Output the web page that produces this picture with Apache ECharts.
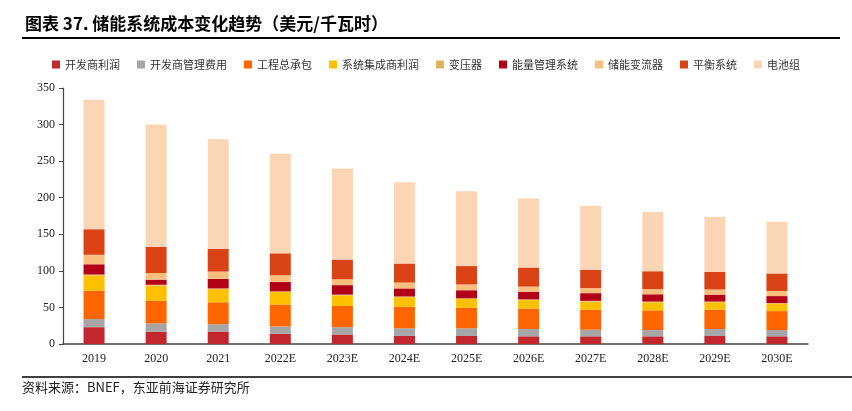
<!DOCTYPE html>
<html>
<head>
<meta charset="utf-8">
<script src="https://cdn.jsdelivr.net/npm/echarts@6/dist/echarts.min.js"></script>
<style>
html,body{margin:0;padding:0;background:#fff;}
#c{width:852px;height:411px;}
</style>
</head>
<body>
<div id="c"></div>
<script>
const categories = ['2019','2020','2021','2022E','2023E','2024E','2025E','2026E','2027E','2028E','2029E','2030E'];
const devProfit    = [23, 17, 17, 14, 13, 11, 11, 10.5, 10.5, 10.5, 11, 10.5];
const devMgmt      = [11, 11, 10, 10, 10, 10.5, 10.5, 10, 9, 8.5, 9.5, 8.5];
const epc          = [39, 31, 30, 30, 29, 29.5, 28, 28, 27.5, 27, 26.5, 26];
const siProfit     = [21, 21, 18, 17, 14.5, 13, 12, 11.5, 11, 11, 10, 10];
const transformer  = [1, 1, 1, 1, 1, 1, 1, 1, 1, 1, 1, 1];
const ems          = [14, 7, 13, 13, 13, 11, 11, 10.5, 10.5, 10, 9.5, 9.5];
const pcs          = [13, 9, 10, 9, 8, 8, 8, 7, 7, 7, 7, 7];
const bos          = [35, 36, 31, 30, 27, 26, 25, 26, 25, 24.5, 24, 24];
const battery      = [177, 167, 150, 136, 124.5, 111, 102.5, 94.5, 87.5, 81, 75.5, 70.5];
const yTicks = {min: 0, max: 350, interval: 50};

const seriesDefs = [
  ['开发商利润', devProfit, '#C1272D'],
  ['开发商管理费用', devMgmt, '#A6A6A6'],
  ['工程总承包', epc, '#FF6600'],
  ['系统集成商利润', siProfit, '#FFC000'],
  ['变压器', transformer, '#DDB362'],
  ['能量管理系统', ems, '#B20016'],
  ['储能变流器', pcs, '#FABF7F'],
  ['平衡系统', bos, '#D94316'],
  ['电池组', battery, '#FCD5B4']
];

const chart = echarts.init(document.getElementById('c'));
const cjk = '"Noto Sans CJK SC", "Noto Sans", sans-serif';
const serif = '"Liberation Serif", "DejaVu Serif", serif';
chart.setOption({
  animation: false,
  backgroundColor: '#fff',
  title: {
    text: '图表 37. 储能系统成本变化趋势（美元/千瓦时）',
    left: 20, top: 10,
    textStyle: {fontFamily: cjk, fontSize: 17, fontWeight: 'bold', color: '#000'}
  },
  graphic: [
    {type: 'line', shape: {x1: 22, y1: 38, x2: 840, y2: 38}, style: {stroke: '#000', lineWidth: 2}},
    {type: 'line', shape: {x1: 22, y1: 377, x2: 852, y2: 377}, style: {stroke: '#000', lineWidth: 1.5}},
    {type: 'text', left: 22, top: 381, style: {text: '资料来源：BNEF，东亚前海证券研究所', font: '13px ' + cjk, fill: '#222'}}
  ],
  legend: {
    top: 54, left: 'center',
    itemWidth: 8, itemHeight: 8, itemGap: 17,
    icon: 'rect',
    textStyle: {fontFamily: cjk, fontSize: 11, color: '#333'},
    data: seriesDefs.map(s => s[0])
  },
  grid: {left: 63, right: 44, top: 88, bottom: 67, containLabel: false},
  xAxis: {
    type: 'category', data: categories,
    axisLine: {lineStyle: {color: '#444', width: 1.5}},
    axisTick: {show: false},
    axisLabel: {fontFamily: serif, fontSize: 12, color: '#222', margin: 9}
  },
  yAxis: {
    type: 'value', min: yTicks.min, max: yTicks.max, interval: yTicks.interval,
    axisLine: {show: true, lineStyle: {color: '#444', width: 1.2}},
    axisTick: {show: true, length: 4, lineStyle: {color: '#444'}},
    splitLine: {show: false},
    axisLabel: {fontFamily: serif, fontSize: 12, color: '#222', margin: 8}
  },
  series: seriesDefs.map(s => ({
    name: s[0], type: 'bar', stack: 'total', data: s[1], barWidth: 21,
    itemStyle: {color: s[2]}
  }))
});
</script>
</body>
</html>
